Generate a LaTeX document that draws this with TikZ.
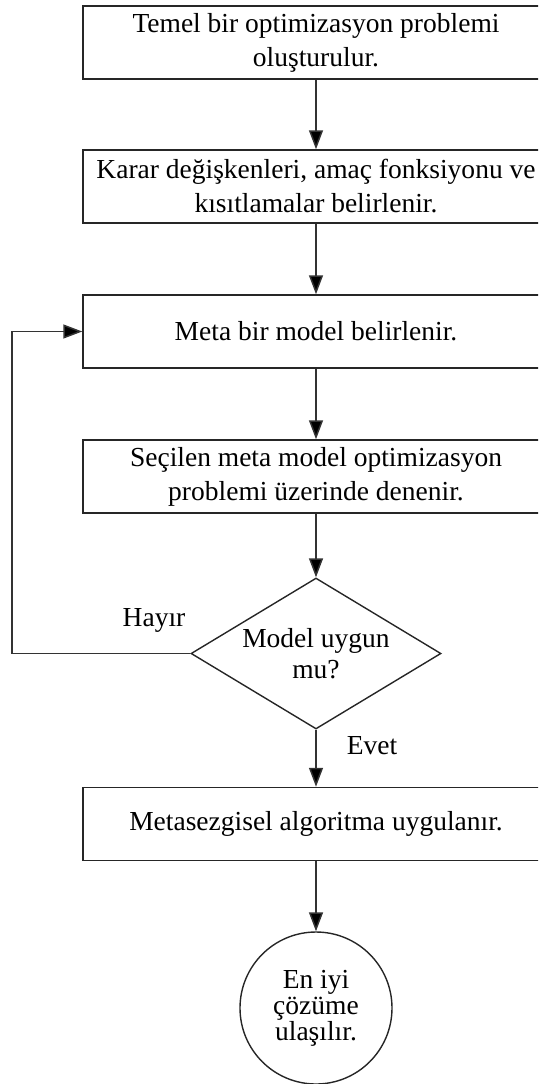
\documentclass[tikz,border=0pt]{standalone}
\usepackage{fontspec}
\setmainfont{Liberation Serif}
\usetikzlibrary{shapes.geometric,arrows.meta}

\begin{document}
\begin{tikzpicture}[x=1pt,y=-1pt,
  every node/.style={font=\fontsize{27.5}{31}\selectfont},
  procbox/.style={draw=black!85,line width=1.5pt,rectangle,minimum width=466pt,
    minimum height=73pt,inner sep=0pt,align=center,font=\fontsize{27.5}{34}\selectfont},
  decision/.style={draw=black!85,line width=1.4pt,diamond,minimum width=250pt,
    minimum height=151pt,aspect=1.656,inner sep=0pt,align=center},
  terminal/.style={draw=black!85,line width=1.4pt,circle,minimum size=152pt,
    inner sep=0pt,align=center,font=\fontsize{27.5}{26}\selectfont},
  flow/.style={draw=black!80,line width=1.5pt,-{Triangle[length=19pt,width=14pt,fill=black]}},
  lbl/.style={inner sep=0pt}]
  \path[use as bounding box] (0,0) rectangle (538,1084);
  \clip (0,0) rectangle (538,1084);

  % main column of steps
  \node[procbox] (b1) at (316,42.5) {Temel bir optimizasyon problemi\\oluşturulur.};
  \node[procbox] (b2) at (316,186.5) {Karar değişkenleri, amaç fonksiyonu ve\\kısıtlamalar belirlenir.};
  \node[procbox] (b3) at (316,331.5) {Meta bir model belirlenir.};
  \node[procbox] (b4) at (316,476.5) {Seçilen meta model optimizasyon\\problemi üzerinde denenir.};
  \node[decision] (dec) at (316,653.5) {Model uygun\\mu?};
  \node[procbox] (b5) at (316,824) {Metasezgisel algoritma uygulanır.};
  \node[terminal] (end) at (316,1008) {En iyi\\çözüme\\ulaşılır.};

  % branch labels
  \node[lbl] (no) at (154,620) {Hayır};
  \node[lbl] (yes) at (372,746) {Evet};

  % return path on the left
  \coordinate (loopx) at (12,0);

  % connectors
  \draw[flow] (b1.south) -- (b2.north);
  \draw[flow] (b2.south) -- (b3.north);
  \draw[flow] (b3.south) -- (b4.north);
  \draw[flow] (b4.south) -- (dec.north);
  \draw[flow] (dec.south) -- (b5.north);
  \draw[flow] (b5.south) -- (end.north);
  \draw[flow] (dec.west) -- (dec.west -| loopx) |- (b3.west);
\end{tikzpicture}
\end{document}
